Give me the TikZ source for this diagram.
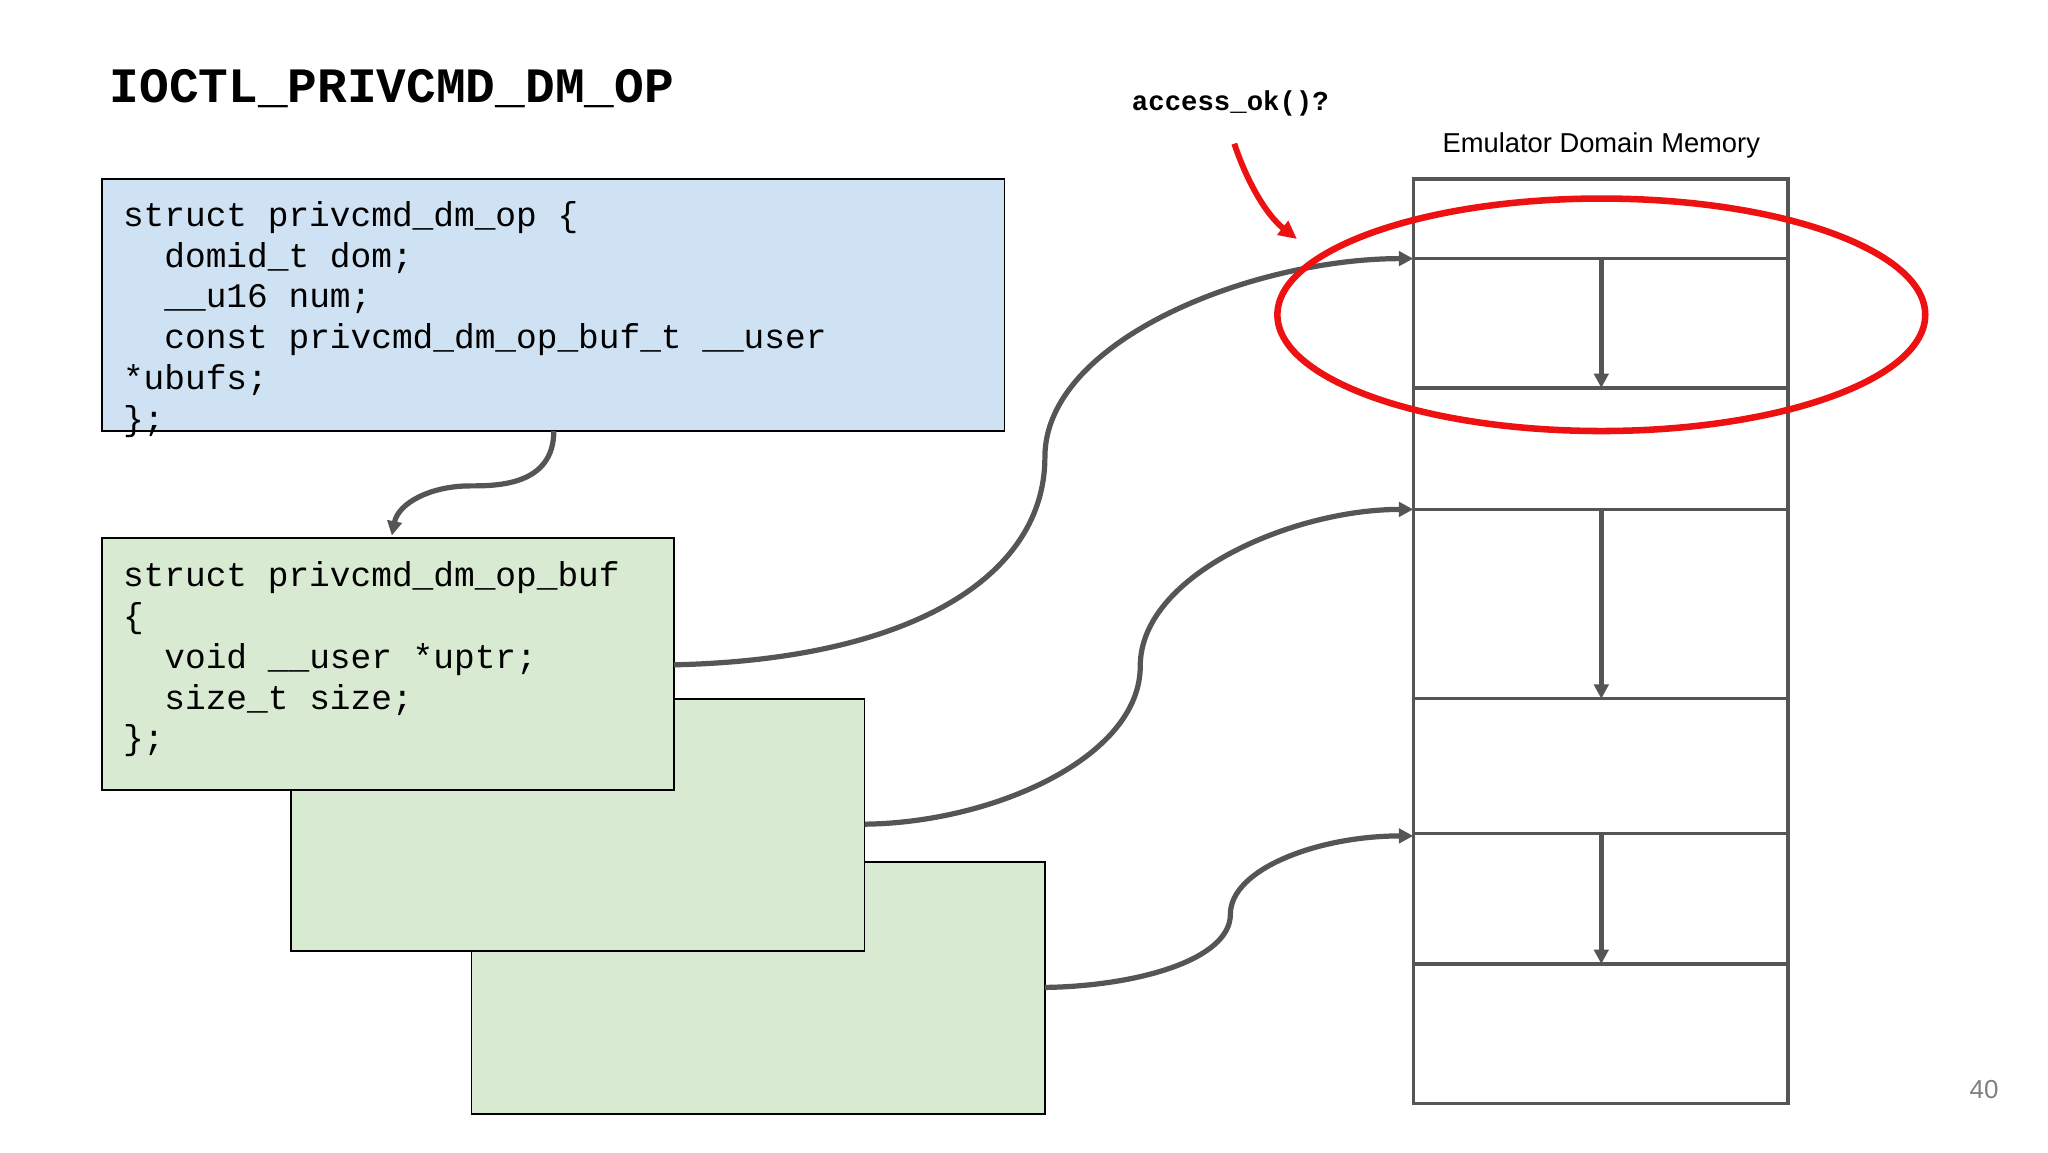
\documentclass[tikz,border=0pt]{standalone}
\usepackage{fontspec}
\setmainfont{Liberation Sans}
\newfontfamily\codefont{Liberation Mono}
\usetikzlibrary{arrows.meta}
\definecolor{bluef}{HTML}{CFE2F3}
\definecolor{greenf}{HTML}{D9EAD3}
\definecolor{conn}{HTML}{555555}
\definecolor{redc}{HTML}{EE1111}
\begin{document}
\begin{tikzpicture}[x=1bp,y=-1bp,
  box/.style={draw=black,line width=1.2bp},
  code/.style={font=\codefont\fontsize{26.5}{31.3}\selectfont,align=left,anchor=north west,inner sep=0pt},
  conn/.style={draw=conn,line width=4bp,-{Triangle[length=11bp,width=11bp]}},
  memline/.style={draw=conn,line width=2.5bp}]
\useasboundingbox (0,0) rectangle (1568,882);
\node[anchor=west,inner sep=0pt,font=\codefont\bfseries\fontsize{38}{38}\selectfont] (title) at (84,68) {IOCTL\_PRIVCMD\_DM\_OP};
% green boxes
\path[box,fill=greenf] (361,660) rectangle (800,853);
\path[box,fill=greenf] (223,535) rectangle (662,728);
\path[box,fill=greenf] (78,412) rectangle (516,605);
\path[box,fill=bluef] (78,137) rectangle (769,330);
\coordinate (bb) at (424,330);
\coordinate (gt) at (300,410);
\coordinate (g1) at (516,509);
\coordinate (g2) at (662,631);
\coordinate (g3) at (800,756);
\node[code] (bt) at (94,154) {struct privcmd\_dm\_op \{\\
\ \ domid\_t dom;\\
\ \ \_\_u16 num;\\
\ \ const privcmd\_dm\_op\_buf\_t \_\_user\\
*ubufs;\\
\};};
\node[code] (gtx) at (94,430) {struct privcmd\_dm\_op\_buf\\
\{\\
\ \ void \_\_user *uptr;\\
\ \ size\_t size;\\
\};};
% memory
\draw[memline] (1082,137) rectangle (1369,845);
\foreach \yy in {198,297,390,535,638,738} \draw[memline] (1082,\yy) -- (1369,\yy);
\coordinate (m1) at (1082,198);
\coordinate (m2) at (1082,390);
\coordinate (m3) at (1082,640);
\foreach \a/\b in {198/297,390/535,638/738}
  \draw[draw=conn,line width=3.5bp,-{Triangle[length=11bp,width=11bp]}] (1226,\a) -- (1226,\b);
\node[font=\fontsize{21}{21}\selectfont] (emu) at (1226,111) {Emulator Domain Memory};
% connectors
\draw[conn] (bb) .. controls (424,372) and (380,372) .. (360,372) .. controls (330,372) and (305,385) .. (gt);
\draw[conn] (g1) .. controls (700,505) and (800,440) .. (800,350) .. controls (800,260) and (960,198) .. (m1);
\draw[conn] (g2) .. controls (760,630) and (873,580) .. (873,510) .. controls (873,440) and (990,390) .. (m2);
\draw[conn] (g3) .. controls (870,755) and (942,735) .. (942,700) .. controls (942,665) and (1010,640) .. (m3);
% red
\draw[redc,line width=5bp] (1226,241) ellipse [x radius=248,y radius=89];
\node[font=\codefont\bfseries\fontsize{21}{21}\selectfont] (acc) at (942,79) {access\_ok()?};
\coordinate (ra) at (945,110);
\coordinate (rb) at (993,183);
\draw[redc,line width=4.5bp,-{Triangle[length=14bp,width=13bp]}] (ra) .. controls (955,140) and (970,165) .. (rb);
\node[font=\fontsize{20}{20}\selectfont,text=gray] (pg) at (1519,834) {40};
\end{tikzpicture}
\end{document}
